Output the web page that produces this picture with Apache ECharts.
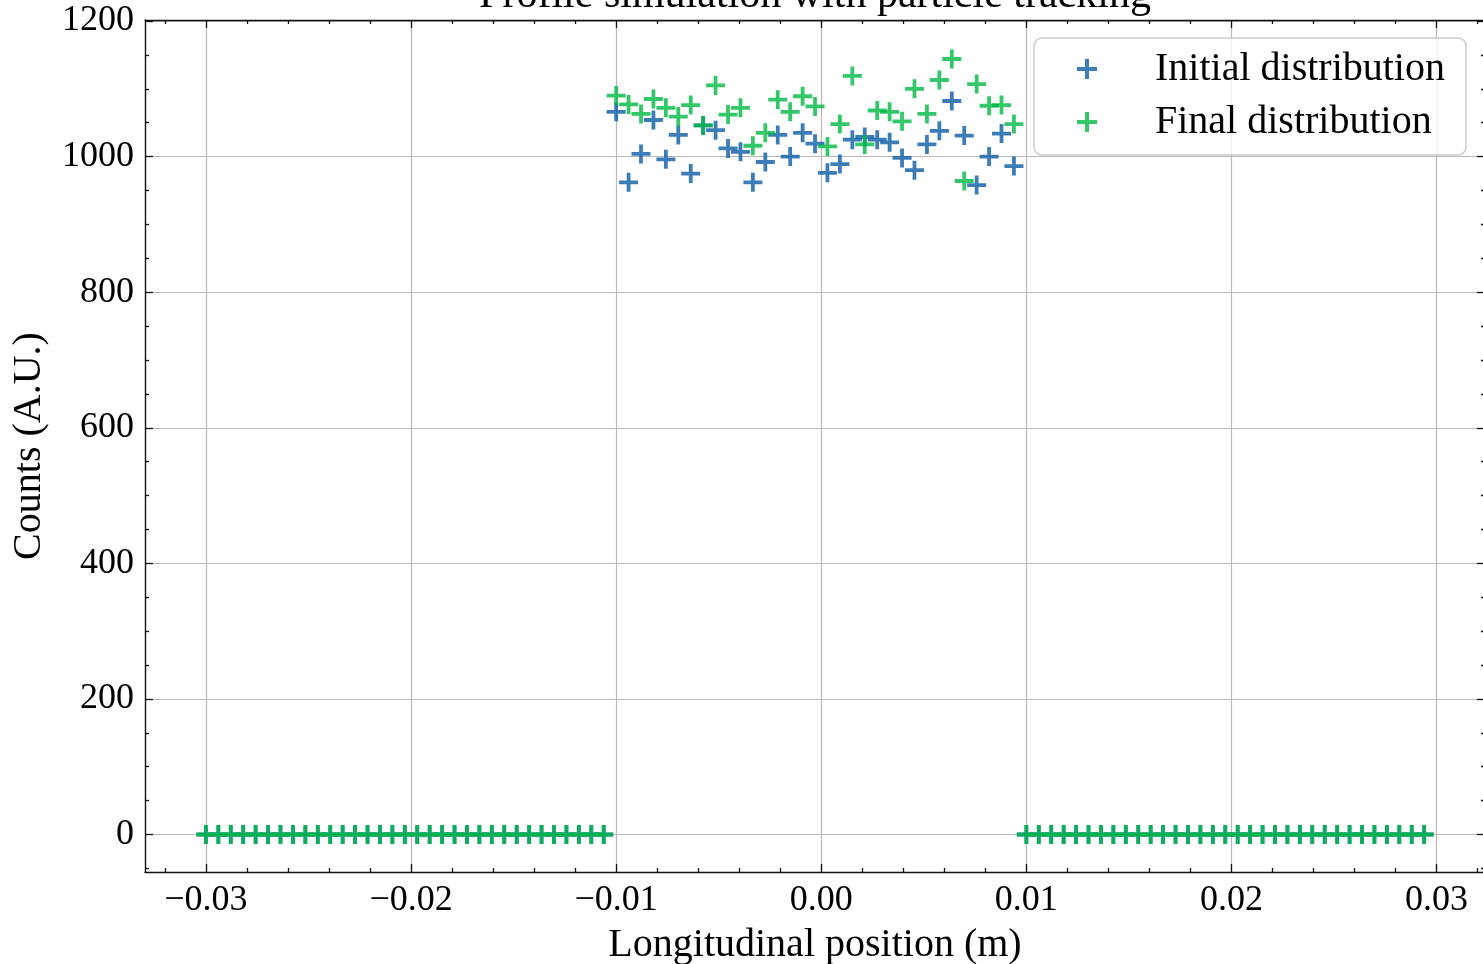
<!DOCTYPE html>
<html>
<head>
<meta charset="utf-8">
<script src="https://cdn.jsdelivr.net/npm/echarts@6/dist/echarts.min.js"></script>
<style>
html,body{margin:0;padding:0;background:#fff;overflow:hidden;}
#chart{width:1483px;height:964px;}
</style>
</head>
<body>
<div id="chart"></div>
<script>
// ---- data ----
const positions = [
-0.030000,-0.029394,-0.028788,-0.028182,-0.027576,-0.026970,-0.026364,-0.025758,-0.025152,-0.024545,
-0.023939,-0.023333,-0.022727,-0.022121,-0.021515,-0.020909,-0.020303,-0.019697,-0.019091,-0.018485,
-0.017879,-0.017273,-0.016667,-0.016061,-0.015455,-0.014848,-0.014242,-0.013636,-0.013030,-0.012424,
-0.011818,-0.011212,-0.010606,-0.010000,-0.009394,-0.008788,-0.008182,-0.007576,-0.006970,-0.006364,
-0.005758,-0.005152,-0.004545,-0.003939,-0.003333,-0.002727,-0.002121,-0.001515,-0.000909,-0.000303,
0.000303,0.000909,0.001515,0.002121,0.002727,0.003333,0.003939,0.004545,0.005152,0.005758,
0.006364,0.006970,0.007576,0.008182,0.008788,0.009394,0.010000,0.010606,0.011212,0.011818,
0.012424,0.013030,0.013636,0.014242,0.014848,0.015455,0.016061,0.016667,0.017273,0.017879,
0.018485,0.019091,0.019697,0.020303,0.020909,0.021515,0.022121,0.022727,0.023333,0.023939,
0.024545,0.025152,0.025758,0.026364,0.026970,0.027576,0.028182,0.028788,0.029394
];
const initialCounts = [
0,0,0,0,0,0,0,0,0,0, 0,0,0,0,0,0,0,0,0,0, 0,0,0,0,0,0,0,0,0,0, 0,0,0,
1066,962,1004,1054,996,1032,975,1046,1039,1012,1007,962,992,1032,1000,1035,1019,
976,989,1025,1029,1025,1021,998,980,1018,1038,1082,1031,958,1000,1034,986,
0,0,0,0,0,0,0,0,0,0, 0,0,0,0,0,0,0,0,0,0, 0,0,0,0,0,0,0,0,0,0, 0,0,0
];
const finalCounts = [
0,0,0,0,0,0,0,0,0,0, 0,0,0,0,0,0,0,0,0,0, 0,0,0,0,0,0,0,0,0,0, 0,0,0,
1090,1077,1063,1085,1072,1059,1076,1046,1105,1062,1072,1016,1035,1084,1066,1089,1074,
1015,1048,1119,1018,1068,1066,1052,1100,1063,1113,1144,964,1107,1075,1076,1048,
0,0,0,0,0,0,0,0,0,0, 0,0,0,0,0,0,0,0,0,0, 0,0,0,0,0,0,0,0,0,0, 0,0,0
];
const xTickValues = [-0.03,-0.02,-0.01,0,0.01,0.02,0.03];
const xTickLabels = ['\u22120.03','\u22120.02','\u22120.01','0.00','0.01','0.02','0.03'];
const xMinorValues = [-0.032,-0.028,-0.026,-0.024,-0.022,-0.018,-0.016,-0.014,-0.012,-0.008,-0.006,-0.004,-0.002,
  0.002,0.004,0.006,0.008,0.012,0.014,0.016,0.018,0.022,0.024,0.026,0.028,0.032];
const yTickValues = [0,200,400,600,800,1000,1200];
const yTickLabels = ['0','200','400','600','800','1000','1200'];
const yMinorValues = [-50,50,100,150,250,300,350,450,500,550,650,700,750,850,900,950,1050,1100,1150];
const seriesNames = ['Initial distribution','Final distribution'];
const titleText = 'Profile simulation with particle tracking';
const xName = 'Longitudinal position (m)';
const yName = 'Counts (A.U.)';

// ---- styling ----
const FONT = 'Liberation Serif';
const BLUE = '#0C5DA5', GREEN = '#00B945';
const PLUS = 'path://M7.2,0H10.8V7.2H18V10.8H10.8V18H7.2V10.8H0V7.2H7.2Z';
const X_MIN = -0.03297, X_MAX = 0.03236;
const Y_MIN = -55.3, Y_MAX = 1201.5;
const spine = {show:true, onZero:false, lineStyle:{color:'#111', width:1.4}};
const grid = {show:true, lineStyle:{color:'#b8b8b8', width:1.2}};

function mkX(pos, values, len, main, labels) {
  return {
    type:'value', position:pos, min:X_MIN, max:X_MAX,
    axisLine: main ? spine : {show:false, onZero:false},
    axisTick:{show:true, inside:true, length:len, customValues:values, lineStyle:{color:'#111', width:1.3}},
    axisLabel: labels ? {show:true, customValues:values, margin:11, color:'#000', fontFamily:FONT, fontSize:36,
      formatter:function(v){const i=xTickValues.findIndex(t=>Math.abs(t-v)<1e-9); return i>=0?xTickLabels[i]:'';}} : {show:false},
    splitLine: (main && labels) ? grid : {show:false},
    minorTick:{show:false}
  };
}
function mkY(pos, values, len, main, labels) {
  return {
    type:'value', position:pos, min:Y_MIN, max:Y_MAX,
    axisLine: main ? spine : {show:false, onZero:false},
    axisTick:{show:true, inside:true, length:len, customValues:values, lineStyle:{color:'#111', width:1.3}},
    axisLabel: labels ? {show:true, customValues:values, margin:11, color:'#000', fontFamily:FONT, fontSize:36,
      formatter:function(v){const i=yTickValues.findIndex(t=>Math.abs(t-v)<1e-6); return i>=0?yTickLabels[i]:'';}} : {show:false},
    splitLine: (main && labels) ? grid : {show:false},
    minorTick:{show:false}
  };
}

const xAxes = [
  mkX('bottom', xTickValues, 8, true, true),
  mkX('bottom', xMinorValues, 4, false, false),
  mkX('top', xTickValues, 8, true, false),
  mkX('top', xMinorValues, 4, false, false)
];
xAxes[0].name = xName;
xAxes[0].nameLocation = 'middle';
xAxes[0].nameGap = 53;
xAxes[0].nameTextStyle = {color:'#000', fontFamily:FONT, fontSize:40};

const yAxes = [
  mkY('left', yTickValues, 8, true, true),
  mkY('left', yMinorValues, 4, false, false),
  mkY('right', yTickValues, 8, true, false),
  mkY('right', yMinorValues, 4, false, false)
];
yAxes[0].name = yName;
yAxes[0].nameLocation = 'middle';
yAxes[0].nameGap = 96;
yAxes[0].nameTextStyle = {color:'#000', fontFamily:FONT, fontSize:40};

function pairs(ys){ return positions.map((x,i)=>[x, ys[i]]); }

const chart = echarts.init(document.getElementById('chart'), null, {renderer:'canvas', width:1483, height:964});
chart.setOption({
  animation:false,
  backgroundColor:'#fff',
  grid:{left:145, width:1340, top:20, height:852, containLabel:false, outerBoundsMode:'none'},
  xAxis:xAxes,
  yAxis:yAxes,
  graphic:[{
    type:'text', x:815, y:17, silent:true,
    style:{text:titleText, fill:'#000', font:'42px "Liberation Serif"', textAlign:'center', textVerticalAlign:'bottom'}
  }],
  legend:{
    orient:'vertical', left:1034, top:38,
    data:seriesNames,
    icon:PLUS, itemWidth:20, itemHeight:20, itemGap:13,
    padding:[11, 21, 13, 43],
    backgroundColor:'rgba(255,255,255,0.8)', borderColor:'#cccccc', borderWidth:1.5, borderRadius:8,
    textStyle:{color:'#000', fontFamily:FONT, fontSize:40, lineHeight:40, padding:[0,0,0,53]},
    selectedMode:false
  },
  series:[
    {name:seriesNames[0], type:'scatter', xAxisIndex:0, yAxisIndex:0, data:pairs(initialCounts),
     symbol:PLUS, symbolSize:19, itemStyle:{color:BLUE}, emphasis:{disabled:true}, z:2},
    {name:seriesNames[1], type:'scatter', xAxisIndex:0, yAxisIndex:0, data:pairs(finalCounts),
     symbol:PLUS, symbolSize:19, itemStyle:{color:GREEN}, emphasis:{disabled:true}, z:3}
  ]
});
</script>
</body>
</html>
